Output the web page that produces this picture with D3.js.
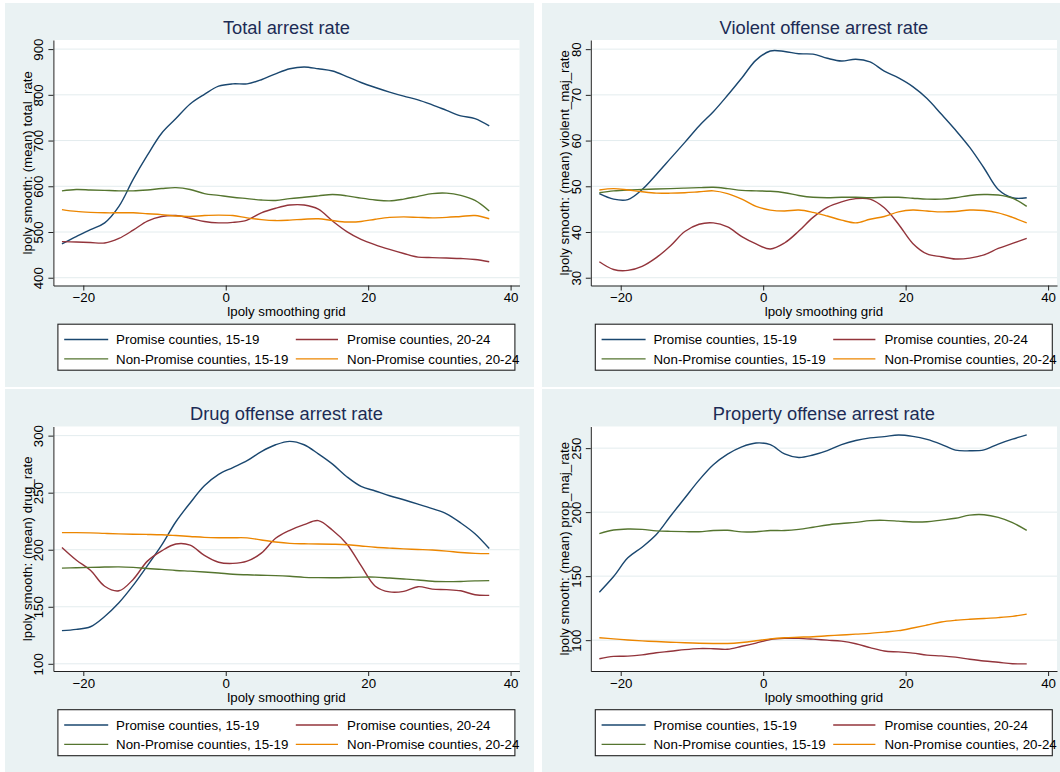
<!DOCTYPE html>
<html>
<head>
<meta charset="utf-8">
<script src="https://cdn.jsdelivr.net/npm/d3@7"></script>
<style>
  html, body { margin: 0; padding: 0; background: #ffffff; }
  svg { display: block; font-family: "Liberation Sans", Arial, Helvetica, sans-serif; }
</style>
</head>
<body>
<svg id="chart" width="1060" height="772"></svg>
<script>
// ---------------- data ----------------
const grid = [-23,-21,-19,-17,-15,-13,-11,-9,-7,-5,-3,-1,1,3,5,7,9,11,13,15,17,19,21,23,25,27,29,31,33,35,37];

const seriesNames = ["Promise counties, 15-19", "Promise counties, 20-24", "Non-Promise counties, 15-19", "Non-Promise counties, 20-24"];
const seriesColors = ["#1a476f", "#93343b", "#55752f", "#ec8600"];

const xTicks = [-20, 0, 20, 40];
const xTitle = "lpoly smoothing grid";

// Total arrest rate
const totalP1519 = [474,490,505,520,556,615,668,716,748,780,801,819,824,824,833,846,857,861,857,852,840,827,816,806,797,789,778,766,754,748,732];
const totalP2024 = [479,478,477,476,486,504,524,534,536,530,523,520,521,526,542,552,559,559,550,524,501,484,472,462,453,445,444,443,442,440,435];
const totalN1519 = [590,593,592,591,590,590,592,595,597,593,584,580,576,573,570,569,573,576,579,582,579,574,570,568,572,578,584,585,580,569,546];
const totalN2024 = [549,545,543,542,542,542,540,538,535,534,536,537,536,531,527,525,526,528,529,525,522,523,528,532,533,532,531,532,534,536,529];
const totalTicks = [400, 500, 600, 700, 800, 900];

// Violent offense arrest rate
const violentP1519 = [48.4,47.2,47.1,49.3,52.6,56.1,59.6,63.2,66.3,69.9,73.7,77.6,79.6,79.5,79.0,78.9,78.0,77.4,77.8,77.2,75.2,73.7,71.8,69.2,65.8,62.3,58.5,54.0,49.3,47.5,47.5];
const violentP2024 = [33.5,31.8,31.6,32.5,34.4,37.0,40.1,41.7,42.0,41.1,39.0,37.4,36.3,37.6,40.2,43.2,45.4,46.6,47.3,47.2,45.3,41.7,37.5,35.2,34.6,34.1,34.3,35.0,36.4,37.5,38.6];
const violentN1519 = [48.6,49.0,49.2,49.3,49.4,49.5,49.6,49.7,49.8,49.5,49.1,49.0,48.9,48.6,48.0,47.6,47.5,47.6,47.6,47.5,47.6,47.6,47.4,47.2,47.2,47.5,48.0,48.2,48.1,47.4,45.6];
const violentN2024 = [49.2,49.5,49.2,48.8,48.5,48.5,48.6,48.8,49.0,48.4,47.2,45.6,44.8,44.6,44.8,44.3,43.5,42.6,42.0,42.8,43.4,44.4,44.8,44.6,44.4,44.5,44.8,44.7,44.2,43.2,42.0];
const violentTicks = [30, 40, 50, 60, 70, 80];

// Drug offense arrest rate
const drugP1519 = [129.1,130.2,132.5,141.5,153.5,168.7,186,204,224.5,241,256,266,272,278,286,292,295,292,284,275,264,255.5,251.5,247.3,243.8,240,236,231.5,223.5,214,201];
const drugP2024 = [202,191,182,168,164,174,190,199,205,204,195,189,188,190,197,210,217,222,225.5,217,205,186,168,163,163.5,167.6,165.5,165,164,160.5,160];
const drugN1519 = [183.9,184.2,184.5,184.8,185,184.5,183.5,182.8,181.8,181.2,180.5,179.6,178.5,178.0,177.6,177.3,176.7,175.8,175.5,175.4,175.6,176.0,176.0,175.2,174.4,173.5,172.3,172.0,172.2,172.7,172.9];
const drugN2024 = [215.0,215.0,214.8,214.3,213.9,213.6,213.4,213.1,212.4,211.6,210.8,210.5,210.5,210.4,208.5,206.8,205.6,205.2,205.0,204.8,204.4,203.3,202.2,201.4,200.7,200.2,199.7,198.8,197.6,196.8,196.6];
const drugTicks = [100, 150, 200, 250, 300];

// Property offense arrest rate
const propP1519 = [137.5,149.7,164.3,172.6,182.5,197,211,225,237,245.3,251,254,252.7,245.5,242.7,244.6,248,252.8,256,258,259,260.3,259.2,256.8,253,248.4,247.9,248.6,253.2,257,260.3];
const propP2024 = [85.5,87.3,87.5,88.5,90.2,91.3,92.6,93.4,93.3,92.9,95.2,97.7,100.5,101.4,101.4,100.8,100.0,99.2,97.2,94.2,91.5,90.8,89.9,88.3,87.7,86.7,85.1,83.7,82.7,81.6,81.5];
const propN1519 = [183.2,186.0,186.8,186.5,185.4,185.0,184.8,184.7,185.6,185.8,184.6,184.7,185.6,185.6,186.5,188.2,190.0,191.1,192.0,193.4,193.6,193.0,192.3,192.5,193.8,195.2,197.7,198.0,195.9,191.8,185.8];
const propN2024 = [101.9,101.0,100.1,99.4,98.9,98.4,98.0,97.6,97.4,97.4,98.2,99.5,101.0,101.9,102.3,102.7,103.4,104.0,104.7,105.3,106.3,107.4,109.5,111.8,114.2,115.5,116.3,116.9,117.6,118.6,120.3];
const propTicks = [100, 150, 200, 250];

const panelTitles = ["Total arrest rate", "Violent offense arrest rate", "Drug offense arrest rate", "Property offense arrest rate"];
const yTitles = ["lpoly smooth: (mean) total_rate", "lpoly smooth: (mean) violent_maj_rate", "lpoly smooth: (mean) drug_rate", "lpoly smooth: (mean) prop_maj_rate"];

// ---------------- layout ----------------
const panels = [
  { title: panelTitles[0], ytitle: yTitles[0], series: [totalP1519, totalP2024, totalN1519, totalN2024], ticks: totalTicks, yDomain: [383.0, 919.9], col: 0, row: 0 },
  { title: panelTitles[1], ytitle: yTitles[1], series: [violentP1519, violentP2024, violentN1519, violentN2024], ticks: violentTicks, yDomain: [28.3, 82.0], col: 1, row: 0 },
  { title: panelTitles[2], ytitle: yTitles[2], series: [drugP1519, drugP2024, drugN1519, drugN2024], ticks: drugTicks, yDomain: [93.7, 308.0], col: 0, row: 1 },
  { title: panelTitles[3], ytitle: yTitles[3], series: [propP1519, propP2024, propN1519, propN2024], ticks: propTicks, yDomain: [75.9, 266.9], col: 1, row: 1 }
];

const colLayout = [
  { bgX: 5, bgW: 529, left: 53.4, right: 519.5 },
  { bgX: 542, bgW: 518, left: 590.8, right: 1057 }
];
const rowLayout = [
  { bgY: 3, bgH: 384, top: 40, bottom: 285.5 },
  { bgY: 389, bgH: 383, top: 426.5, bottom: 671 }
];
const xDomain = [-24.2, 41.25];

const svg = d3.select("#chart");
svg.append("rect").attr("x", 0).attr("y", 0).attr("width", 1060).attr("height", 772).attr("fill", "#ffffff");

const FONT = 13.3;

panels.forEach(p => {
  const C = colLayout[p.col], R = rowLayout[p.row];
  const g = svg.append("g");

  g.append("rect").attr("x", C.bgX).attr("y", R.bgY).attr("width", C.bgW).attr("height", R.bgH).attr("fill", "#eaf2f3");
  g.append("rect").attr("x", C.left).attr("y", R.top).attr("width", C.right - C.left).attr("height", R.bottom - R.top).attr("fill", "#ffffff");

  const x = d3.scaleLinear().domain(xDomain).range([C.left, C.right]);
  const y = d3.scaleLinear().domain(p.yDomain).range([R.bottom, R.top]);

  // gridlines
  g.append("g").selectAll("line").data(p.ticks).join("line")
    .attr("x1", C.left).attr("x2", C.right)
    .attr("y1", d => y(d)).attr("y2", d => y(d))
    .attr("stroke", "#e3ecee").attr("stroke-width", 1);

  // series lines
  const line = d3.line().x((d, i) => x(grid[i])).y(d => y(d)).curve(d3.curveCatmullRom.alpha(0.5));
  p.series.forEach((s, i) => {
    g.append("path").datum(s).attr("d", line).attr("fill", "none")
      .attr("stroke", seriesColors[i]).attr("stroke-width", 1.4);
  });

  // y axis
  const ya = g.append("g").attr("transform", `translate(${C.left},0)`)
    .call(d3.axisLeft(y).tickValues(p.ticks).tickSize(5).tickSizeOuter(0).tickFormat(d3.format("d")));
  ya.select(".domain").attr("stroke", "#222").attr("stroke-width", 1);
  ya.selectAll(".tick line").attr("stroke", "#222");
  ya.selectAll(".tick text")
    .attr("transform", "rotate(-90)").attr("x", 0).attr("y", -10).attr("dy", 0)
    .attr("text-anchor", "middle").attr("fill", "#000")
    .style("font-size", FONT + "px").style("font-family", "Liberation Sans, Arial, sans-serif");

  // x axis
  const xa = g.append("g").attr("transform", `translate(0,${R.bottom})`)
    .call(d3.axisBottom(x).tickValues(xTicks).tickSize(5).tickSizeOuter(0).tickFormat(d3.format("d")));
  xa.select(".domain").attr("stroke", "#222").attr("stroke-width", 1);
  xa.selectAll(".tick line").attr("stroke", "#222");
  xa.selectAll(".tick text").attr("y", 16.8).attr("dy", 0).attr("fill", "#000")
    .style("font-size", FONT + "px").style("font-family", "Liberation Sans, Arial, sans-serif");

  // titles
  g.append("text").attr("x", (C.left + C.right) / 2).attr("y", R.top - 6.2)
    .attr("text-anchor", "middle").attr("fill", "#1c2b55").style("font-size", "18.3px").text(p.title);
  g.append("text").attr("transform", `translate(${C.left - 21.4},${(R.top + R.bottom) / 2}) rotate(-90)`)
    .attr("text-anchor", "middle").attr("fill", "#000").style("font-size", FONT + "px").text(p.ytitle);
  g.append("text").attr("x", (C.left + C.right) / 2).attr("y", R.bottom + 30.7)
    .attr("text-anchor", "middle").attr("fill", "#000").style("font-size", FONT + "px").text(xTitle);

  // legend
  const lgTop = R.bottom + 38.7;
  const lg = g.append("g");
  lg.append("rect").attr("x", C.left + 4.5).attr("y", lgTop).attr("width", 457).attr("height", 46)
    .attr("fill", "#ffffff").attr("stroke", "#222").attr("stroke-width", 1.1);
  const rowsY = [lgTop + 15.3, lgTop + 34.7];
  const colX = [{ l0: 10.8, l1: 54.8, t: 62.7 }, { l0: 242.4, l1: 284.6, t: 293.7 }];
  seriesNames.forEach((name, i) => {
    const r = Math.floor(i / 2), c = i % 2;
    const cx = colX[c];
    lg.append("line").attr("x1", C.left + cx.l0).attr("x2", C.left + cx.l1)
      .attr("y1", rowsY[r]).attr("y2", rowsY[r]).attr("stroke", seriesColors[i]).attr("stroke-width", 1.4);
    lg.append("text").attr("x", C.left + cx.t).attr("y", rowsY[r]).attr("dy", "0.36em")
      .attr("fill", "#000").style("font-size", FONT + "px").text(name);
  });
});
</script>
</body>
</html>
